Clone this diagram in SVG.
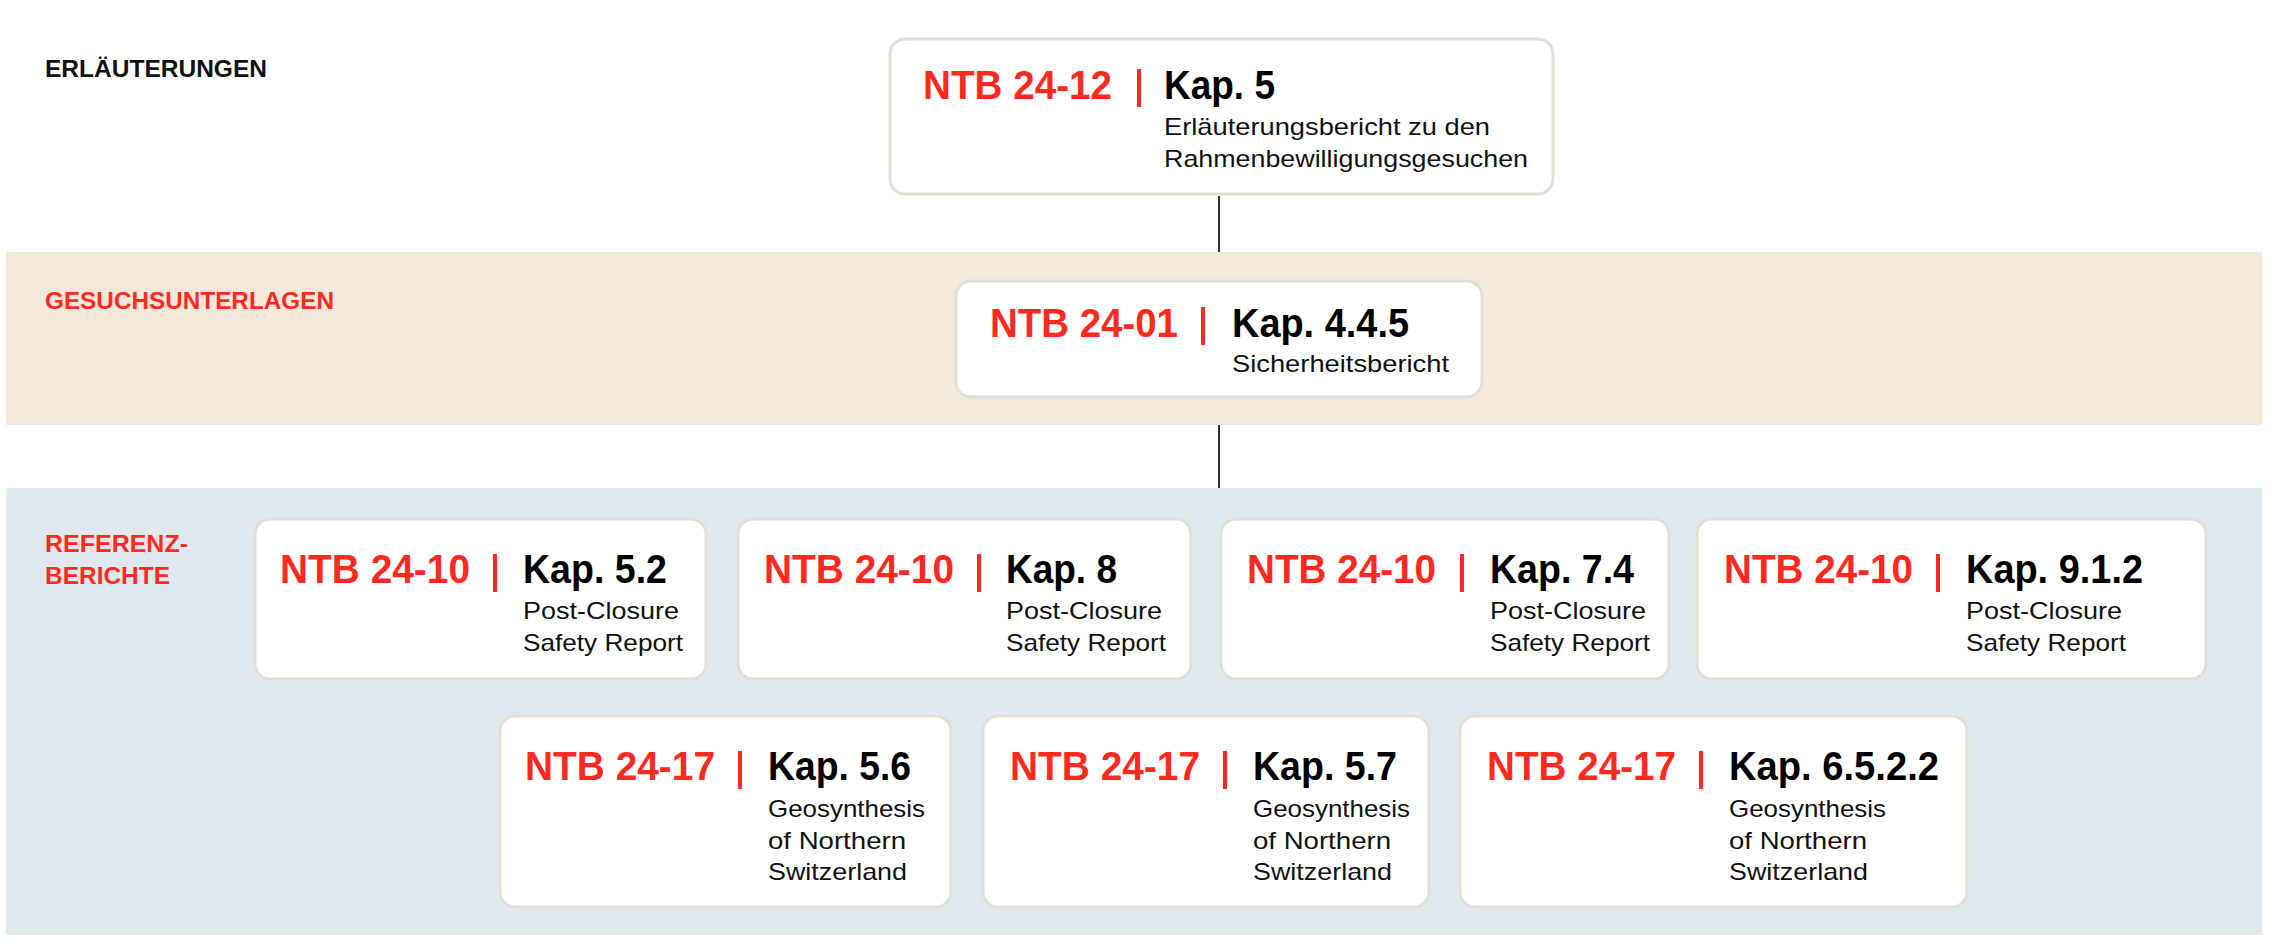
<svg xmlns="http://www.w3.org/2000/svg" width="2272" height="942" viewBox="0 0 2272 942">
<style>
.band-b{fill:#f2e9da}
.band-c{fill:#dfe9ed}
.box{fill:#ffffff;stroke:#e2ded8;stroke-width:3}
.lbl{font-family:"Liberation Sans",Arial,sans-serif;font-weight:bold;font-size:24px}
.lbl-k{fill:#111111}
.lbl-r{fill:#ff2a1f}
.ntb{font-family:"Liberation Sans",Arial,sans-serif;font-weight:bold;font-size:40px;fill:#ff2a1f}
.kap{font-family:"Liberation Sans",Arial,sans-serif;font-weight:bold;font-size:40px;fill:#000000}
.sub{font-family:"Liberation Sans",Arial,sans-serif;font-size:24px;fill:#111111}
.bar{stroke:#ff2a1f;stroke-width:4}
.conn{stroke:#000000;stroke-width:1.6;fill:none}
</style>
<rect width="2272" height="942" fill="#ffffff"/>
<rect class="band-b" x="6" y="252" width="2256" height="173"/>
<rect class="band-c" x="6" y="488" width="2256" height="447"/>

<g id="labels">
<text class="lbl lbl-k" x="45" y="77" textLength="222" lengthAdjust="spacingAndGlyphs">ERLÄUTERUNGEN</text>
<text class="lbl lbl-r" x="45" y="309" textLength="289" lengthAdjust="spacingAndGlyphs">GESUCHSUNTERLAGEN</text>
<text class="lbl lbl-r" x="45" y="552" textLength="143" lengthAdjust="spacingAndGlyphs">REFERENZ-</text>
<text class="lbl lbl-r" x="45" y="584" textLength="125" lengthAdjust="spacingAndGlyphs">BERICHTE</text>
</g>

<g id="connectors">
<line class="conn" x1="1219" y1="196" x2="1219" y2="252"/>
<line class="conn" x1="1219" y1="425" x2="1219" y2="488"/>
</g>

<g id="node-ntb2412">
<rect class="box" x="890" y="39" width="663" height="155" rx="15"/>
<text class="ntb" x="923" y="99" textLength="189" lengthAdjust="spacingAndGlyphs">NTB 24-12</text>
<line class="bar" x1="1139" y1="69" x2="1139" y2="107"/>
<text class="kap" x="1164" y="99" textLength="111" lengthAdjust="spacingAndGlyphs">Kap. 5</text>
<text class="sub" x="1164" y="135" textLength="326" lengthAdjust="spacingAndGlyphs">Erläuterungsbericht zu den</text>
<text class="sub" x="1164" y="167" textLength="364" lengthAdjust="spacingAndGlyphs">Rahmenbewilligungsgesuchen</text>
</g>

<g id="node-ntb2401">
<rect class="box" x="956" y="281" width="526" height="116" rx="15"/>
<text class="ntb" x="990" y="337" textLength="188" lengthAdjust="spacingAndGlyphs">NTB 24-01</text>
<line class="bar" x1="1203" y1="307" x2="1203" y2="345"/>
<text class="kap" x="1232" y="337" textLength="177" lengthAdjust="spacingAndGlyphs">Kap. 4.4.5</text>
<text class="sub" x="1232" y="372" textLength="217" lengthAdjust="spacingAndGlyphs">Sicherheitsbericht</text>
</g>

<g id="node-ntb2410-52">
<rect class="box" x="255" y="519" width="451" height="160" rx="15"/>
<text class="ntb" x="280" y="583" textLength="190" lengthAdjust="spacingAndGlyphs">NTB 24-10</text>
<line class="bar" x1="495" y1="554" x2="495" y2="592"/>
<text class="kap" x="523" y="583" textLength="144" lengthAdjust="spacingAndGlyphs">Kap. 5.2</text>
<text class="sub" x="523" y="619" textLength="156" lengthAdjust="spacingAndGlyphs">Post-Closure</text>
<text class="sub" x="523" y="651" textLength="160" lengthAdjust="spacingAndGlyphs">Safety Report</text>
</g>

<g id="node-ntb2410-8">
<rect class="box" x="738" y="519" width="453" height="160" rx="15"/>
<text class="ntb" x="764" y="583" textLength="190" lengthAdjust="spacingAndGlyphs">NTB 24-10</text>
<line class="bar" x1="979" y1="554" x2="979" y2="592"/>
<text class="kap" x="1006" y="583" textLength="111" lengthAdjust="spacingAndGlyphs">Kap. 8</text>
<text class="sub" x="1006" y="619" textLength="156" lengthAdjust="spacingAndGlyphs">Post-Closure</text>
<text class="sub" x="1006" y="651" textLength="160" lengthAdjust="spacingAndGlyphs">Safety Report</text>
</g>

<g id="node-ntb2410-74">
<rect class="box" x="1221" y="519" width="448" height="160" rx="15"/>
<text class="ntb" x="1247" y="583" textLength="189" lengthAdjust="spacingAndGlyphs">NTB 24-10</text>
<line class="bar" x1="1462" y1="554" x2="1462" y2="592"/>
<text class="kap" x="1490" y="583" textLength="144" lengthAdjust="spacingAndGlyphs">Kap. 7.4</text>
<text class="sub" x="1490" y="619" textLength="156" lengthAdjust="spacingAndGlyphs">Post-Closure</text>
<text class="sub" x="1490" y="651" textLength="160" lengthAdjust="spacingAndGlyphs">Safety Report</text>
</g>

<g id="node-ntb2410-912">
<rect class="box" x="1697" y="519" width="509" height="160" rx="15"/>
<text class="ntb" x="1724" y="583" textLength="189" lengthAdjust="spacingAndGlyphs">NTB 24-10</text>
<line class="bar" x1="1938" y1="554" x2="1938" y2="592"/>
<text class="kap" x="1966" y="583" textLength="177" lengthAdjust="spacingAndGlyphs">Kap. 9.1.2</text>
<text class="sub" x="1966" y="619" textLength="156" lengthAdjust="spacingAndGlyphs">Post-Closure</text>
<text class="sub" x="1966" y="651" textLength="160" lengthAdjust="spacingAndGlyphs">Safety Report</text>
</g>

<g id="node-ntb2417-56">
<rect class="box" x="500" y="716" width="451" height="191" rx="15"/>
<text class="ntb" x="525" y="780" textLength="190" lengthAdjust="spacingAndGlyphs">NTB 24-17</text>
<line class="bar" x1="740" y1="751" x2="740" y2="789"/>
<text class="kap" x="768" y="780" textLength="143" lengthAdjust="spacingAndGlyphs">Kap. 5.6</text>
<text class="sub" x="768" y="817" textLength="157" lengthAdjust="spacingAndGlyphs">Geosynthesis</text>
<text class="sub" x="768" y="849" textLength="138" lengthAdjust="spacingAndGlyphs">of Northern</text>
<text class="sub" x="768" y="880" textLength="139" lengthAdjust="spacingAndGlyphs">Switzerland</text>
</g>

<g id="node-ntb2417-57">
<rect class="box" x="983" y="716" width="446" height="191" rx="15"/>
<text class="ntb" x="1010" y="780" textLength="190" lengthAdjust="spacingAndGlyphs">NTB 24-17</text>
<line class="bar" x1="1225" y1="751" x2="1225" y2="789"/>
<text class="kap" x="1253" y="780" textLength="144" lengthAdjust="spacingAndGlyphs">Kap. 5.7</text>
<text class="sub" x="1253" y="817" textLength="157" lengthAdjust="spacingAndGlyphs">Geosynthesis</text>
<text class="sub" x="1253" y="849" textLength="138" lengthAdjust="spacingAndGlyphs">of Northern</text>
<text class="sub" x="1253" y="880" textLength="139" lengthAdjust="spacingAndGlyphs">Switzerland</text>
</g>

<g id="node-ntb2417-6522">
<rect class="box" x="1460" y="716" width="507" height="191" rx="15"/>
<text class="ntb" x="1487" y="780" textLength="189" lengthAdjust="spacingAndGlyphs">NTB 24-17</text>
<line class="bar" x1="1701" y1="751" x2="1701" y2="789"/>
<text class="kap" x="1729" y="780" textLength="210" lengthAdjust="spacingAndGlyphs">Kap. 6.5.2.2</text>
<text class="sub" x="1729" y="817" textLength="157" lengthAdjust="spacingAndGlyphs">Geosynthesis</text>
<text class="sub" x="1729" y="849" textLength="138" lengthAdjust="spacingAndGlyphs">of Northern</text>
<text class="sub" x="1729" y="880" textLength="139" lengthAdjust="spacingAndGlyphs">Switzerland</text>
</g>
</svg>
